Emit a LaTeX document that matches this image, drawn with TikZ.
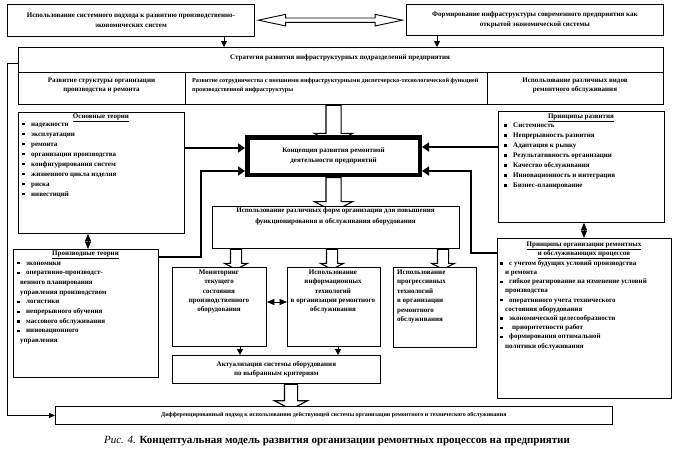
\documentclass[tikz,border=0pt]{standalone}
\usepackage{fontspec}
\setmainfont{Liberation Serif}
\usetikzlibrary{arrows.meta,shapes.arrows,backgrounds,calc}

\newcommand{\fs}[2]{\fontsize{#1}{#2}\selectfont}
\newcommand{\blt}{\rule[0.6pt]{2.4pt}{2.4pt}}
\newcommand{\itm}[1]{\makebox[9pt][l]{\blt}#1}

\tikzset{
  box/.style={draw, line width=0.8pt, fill=white, inner sep=0pt, anchor=north west, align=center, font=\fs{7}{9.5}\bfseries},
  txt/.style={font=\fs{7}{9.5}\bfseries, align=center, inner sep=0pt},
  lst/.style={font=\fs{7}{10}\bfseries, align=left, inner sep=0pt, anchor=north west},
  link/.style={line width=2.4pt, -{Triangle[length=7pt,width=9pt]}},
  thinlink/.style={line width=0.8pt, -{Triangle[length=6pt,width=5pt]}},
  tip/.style={line width=0.8pt, -{Triangle[length=6pt,width=6pt]}},
  dbl/.style={line width=0.8pt, {Triangle[length=7.5pt,width=6pt]}-{Triangle[length=7.5pt,width=6pt]}},
  hollow/.style={single arrow, draw, line width=1.1pt, fill=white, minimum width=0pt, anchor=tail, shape border rotate=270, single arrow tip angle=125},
}

\begin{document}
\begin{tikzpicture}[x=1pt,y=-1pt]
\useasboundingbox (0,0) rectangle (674,455);

% top row
\node[box, minimum width=247pt, minimum height=32pt] (topL) at (7,4) {Использование системного подхода к развитию производственно-\\экономических систем};
\node[box, minimum width=257pt, minimum height=31pt] (topR) at (406,4) {Формирование инфраструктуры современного предприятия как\\открытой экономической системы};
\node[double arrow, draw, line width=0.9pt, fill=white, inner sep=1.75pt, minimum width=0pt, double arrow head extend=3.6pt, double arrow tip angle=24, minimum height=144pt] (dd) at ($(topL.east)!0.5!(topR.west)$) {};

% strategy
\node[box, minimum width=645pt, minimum height=57pt] (strat) at (18,47) {};
\draw[line width=0.8pt] ([yshift=-25pt]strat.north west) -- ([yshift=-25pt]strat.north east);
\draw[line width=0.8pt] ([xshift=167pt,yshift=-25pt]strat.north west) -- ([xshift=167pt]strat.south west);
\draw[line width=0.8pt] ([xshift=469pt,yshift=-25pt]strat.north west) -- ([xshift=469pt]strat.south west);
\node[txt] (stratT) at (340,58) {Стратегия развития инфраструктурных подразделений предприятия};
\node[txt] (col1) at (101.5,85.5) {Развитие структуры организации\\производства и ремонта};
\node[txt, align=left, anchor=west, font=\fs{6.2}{9.5}\bfseries] (col2) at (192,85.5) {Развитие сотрудничества с внешними инфраструктурными диспетчерско-технологической функцией\\производственной инфраструктуры};
\node[txt] (col3) at (575,85.5) {Использование различных видов\\ремонтного обслуживания};

\coordinate (ta) at (224,0);
\coordinate (tb) at (437,0);
\draw[tip] (topL.south -| ta) -- (strat.north -| ta);
\draw[tip] (topR.south -| tb) -- (strat.north -| tb);

% theories and principles
\node[box, minimum width=166pt, minimum height=121pt] (bases) at (18,112) {};
\node[txt] (basesT) at (101,118) {\underline{Основные теории}};
\node[lst] (basesL) at (22,122.5) {\itm{надежности}\\\itm{эксплуатации}\\\itm{ремонта}\\\itm{организации производства}\\\itm{конфигурирования систем}\\\itm{жизненного цикла изделия}\\\itm{риска}\\\itm{инвестиций}};

\node[box, minimum width=145pt, minimum height=128pt] (derived) at (13,249) {};
\node[txt] (derivedT) at (85.5,255) {\underline{Производные теории}};
\node[lst, font=\fs{7}{9.7}\bfseries] (derivedL) at (17,261.5) {\itm{экономики}\\\itm{оперативно-производст-}\\\hspace*{3pt}венного планирования\\\hspace*{3pt}управления производством\\\itm{логистики}\\\itm{непрерывного обучения}\\\itm{массового обслуживания}\\\itm{инновационного}\\\hspace*{3pt}управления};

\node[box, minimum width=166pt, minimum height=111pt] (dev) at (498,111) {};
\node[txt] (devT) at (581,117.5) {\underline{Принципы развития}};
\node[lst] (devL) at (504,122.5) {\itm{Системность}\\\itm{Непрерывность развития}\\\itm{Адаптация к рынку}\\\itm{Результативность организации}\\\itm{Качество обслуживания}\\\itm{Инновационность и интеграция}\\\itm{Бизнес-планирование}};

\node[box, minimum width=174pt, minimum height=160pt] (orgp) at (497,238) {};
\node[txt, font=\fs{7}{9}\bfseries] (orgpT) at (584,250) {\underline{Принципы организации ремонтных}\\\underline{и обслуживающих процессов}};
\node[lst, font=\fs{7}{9.2}\bfseries] (orgpL) at (500,260) {\itm{с учетом будущих условий производства}\\\hspace*{5pt}и ремонта\\\itm{гибкое реагирование на изменение условий}\\\hspace*{5pt}производства\\\itm{оперативного учета технического}\\\hspace*{5pt}состояния оборудования\\\itm{экономической целесообразности}\\\itm{\hspace*{3pt}приоритетности работ}\\\itm{формирования оптимальной}\\\hspace*{5pt}политики обслуживания};

% concept
\node[box, line width=4.5pt, minimum width=172.5pt, minimum height=37.5pt] (central) at (245,135) {Концепция развития ремонтной\\деятельности предприятий};
\coordinate (cw1) at ([yshift=8pt]central.west);
\coordinate (cw2) at ([yshift=-15pt]central.west);
\coordinate (ce1) at ([yshift=9pt]central.east);
\coordinate (ce2) at ([yshift=-15pt]central.east);
\draw[link] (bases.east |- cw1) -- (cw1);
\draw[link] ([yshift=-8pt]derived.north east) -| ([xshift=-44pt]cw2) -- (cw2);
\draw[link] (dev.west |- ce1) -- (ce1);
\draw[link] ([yshift=-15pt]orgp.north west) -| ([xshift=49pt]ce2) -- (ce2);

\draw[dbl] (bases.south -| 88,0) -- (derived.north -| 88,0);
\draw[dbl] (dev.south -| 584,0) -- (orgp.north -| 584,0);

% forms and measures
\node[box, minimum width=247pt, minimum height=42pt] (forms) at (212,206) {};
\node[txt, font=\fs{7}{10.5}\bfseries] (formsT) at (335.5,216.5) {Использование различных форм организации для повышения\\функционирования и обслуживания оборудования};

\node[box, minimum width=94pt, minimum height=79pt] (monit) at (172,267) {};
\node[txt, font=\fs{7}{9.3}\bfseries] (monitT) at (219,291.5) {Мониторинг\\текущего\\состояния\\производственного\\оборудования};
\node[box, minimum width=93pt, minimum height=79pt] (infot) at (287,267) {};
\node[txt, font=\fs{7}{9.3}\bfseries] (infotT) at (333,291.5) {Использование\\информационных\\технологий\\в организации ремонтного\\обслуживания};
\node[box, minimum width=83pt, minimum height=80pt] (modt) at (393,267) {};
\node[txt, font=\fs{7}{9.4}\bfseries, align=left, anchor=west] (modtT) at (397,296.5) {Использование\\прогрессивных\\технологий\\в организации\\ремонтного\\обслуживания};
\draw[dbl] ([yshift=-35pt]monit.north east) -- ([yshift=-35pt]infot.north west);

\node[box, minimum width=208pt, minimum height=28pt] (actual) at (172,355) {Актуализация системы оборудования\\по выбранным критериям};
\draw[tip] (monit.south -| 240,0) -- (actual.north -| 240,0);
\draw[tip] (infot.south -| 338,0) -- (actual.north -| 338,0);

\node[box, minimum width=557pt, minimum height=18pt, font=\fs{6}{8}\bfseries] (diff) at (55,406) {Дифференцированный подход к использованию действующей системы организации ремонтного и технического обслуживания};
\draw[thinlink] ([yshift=-16pt]strat.north west) -- ++(-11,0) |- (diff.west);

% hollow arrows
\begin{scope}[on background layer]
\node[hollow, inner sep=7pt, single arrow head extend=11.5pt, minimum height=38pt] (h1) at (central.north |- strat.south) {};
\node[hollow, inner sep=7pt, single arrow head extend=11.5pt, minimum height=34pt] (h2) at (central.south) {};
\node[hollow, inner sep=5pt, single arrow head extend=6pt, minimum height=20pt] (h3) at (forms.south -| 236,0) {};
\node[hollow, inner sep=5pt, single arrow head extend=6pt, minimum height=20pt] (h4) at (forms.south -| 332,0) {};
\node[hollow, inner sep=5pt, single arrow head extend=6pt, minimum height=20pt] (h5) at (forms.south -| 443,0) {};
\node[hollow, inner sep=6pt, single arrow head extend=10pt, minimum height=25pt] (h6) at (actual.south -| 291,0) {};
\end{scope}

\node[font=\fs{11}{13}] (cap) at (337,441) {\textit{Рис. 4.} \textbf{Концептуальная модель развития организации  ремонтных процессов на предприятии}};
\end{tikzpicture}
\end{document}
